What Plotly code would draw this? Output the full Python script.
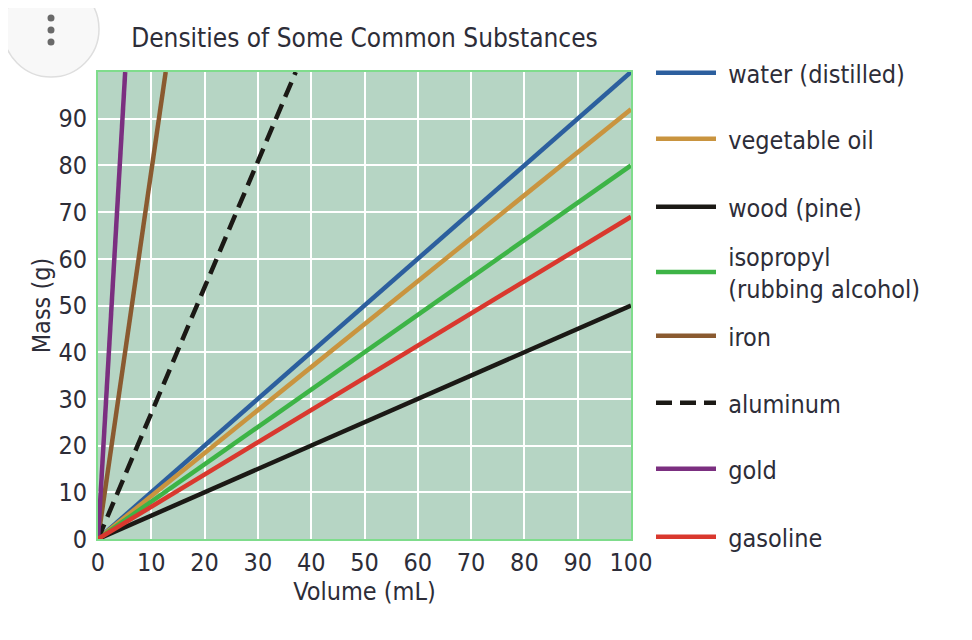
import plotly.graph_objects as go

# values
substances = ["water (distilled)", "vegetable oil", "wood (pine)",
              "isopropyl<br>(rubbing alcohol)", "iron", "aluminum", "gold", "gasoline"]
end_volume = [100, 100, 100, 100, 12.7, 37.1, 5.1, 100]   # mL where each line leaves the chart
end_mass = [100, 92, 50, 80, 100, 100, 100, 69]           # g at that volume
colors = ["#2c5f9e", "#c9943f", "#1b1915", "#3db446", "#8a5a30", "#1b1915", "#7b2f80", "#d9382e"]
dashes = ["solid", "solid", "solid", "solid", "solid", "16px,8px", "solid", "solid"]

x_ticks = list(range(0, 101, 10))
y_ticks = list(range(0, 91, 10))

FONT = "Liberation Sans Narrow, DejaVu Sans Condensed, Roboto Condensed, Arial Narrow, sans-serif"
TEXT = "#2d2d38"

# page has an 8px body margin, so work in screen pixels minus that offset
OFF = 7
W, H = 972, 640
L, R, T, B = 97 - OFF, 630 - OFF, 71 - OFF, 538 - OFF
legend_px = [72, 138, 206, 271, 335, 402, 468, 536]


def px_x(px):
    return (px - OFF - L) / (R - L)


def px_y(py):
    return (B - (py - OFF)) / (B - T)


fig = go.Figure()
for i, name in enumerate(substances):
    key = "legend" if i == 0 else "legend%d" % (i + 1)
    label = "\u00a0" + name.replace("<br>", "<br>\u00a0")
    fig.add_trace(go.Scatter(
        x=[0, end_volume[i]], y=[0, end_mass[i]], name=label, mode="lines",
        line=dict(color=colors[i], width=4.5, dash=dashes[i]),
        legend=key, hoverinfo="name"))

legends = {}
for i, py in enumerate(legend_px):
    key = "legend" if i == 0 else "legend%d" % (i + 1)
    legends[key] = dict(
        x=px_x(650), xanchor="left",
        y=px_y(py), yanchor="middle",
        font=dict(family=FONT, size=25, color=TEXT),
        bgcolor="rgba(0,0,0,0)", itemwidth=60, borderwidth=0)

fig.update_layout(
    width=W, height=H,
    margin=dict(l=L, r=W - R, t=T, b=H - B),
    paper_bgcolor="white",
    plot_bgcolor="#b6d5c4",
    title=dict(text="Densities of Some Common Substances", x=0.5, xref="paper",
               y=1 - (37 - OFF) / H, yanchor="middle",
               font=dict(family=FONT, size=26, color=TEXT)),
    font=dict(family=FONT, color=TEXT),
    xaxis=dict(range=[0, 100], tickvals=x_ticks, showgrid=True, gridcolor="white",
               gridwidth=2, zeroline=False, showline=True, mirror=True,
               linecolor="#7fdc8c", linewidth=2, ticks="",
               tickfont=dict(family=FONT, size=25, color=TEXT),
               title=dict(text="Volume (mL)", standoff=6,
                          font=dict(family=FONT, size=25, color=TEXT))),
    yaxis=dict(range=[0, 100], tickvals=y_ticks, showgrid=True, gridcolor="white",
               gridwidth=2, zeroline=False, showline=True, mirror=True,
               linecolor="#7fdc8c", linewidth=2, ticks="", ticklabelstandoff=4,
               tickfont=dict(family=FONT, size=25, color=TEXT),
               title=dict(text="Mass (g)", standoff=1,
                          font=dict(family=FONT, size=25, color=TEXT))),
    showlegend=True,
    **legends,
)

# menu button overlay in the top-left corner of the screenshot
fig.add_shape(type="circle", xref="paper", yref="paper",
              x0=px_x(2), x1=px_x(98), y0=px_y(76), y1=px_y(-20),
              fillcolor="#f8f8f8", line=dict(color="#dedede", width=1.5), layer="above")
for dot_y in [17, 29, 41]:
    fig.add_shape(type="circle", xref="paper", yref="paper",
                  x0=px_x(46.5), x1=px_x(53.5), y0=px_y(dot_y + 3.5), y1=px_y(dot_y - 3.5),
                  fillcolor="#6a6a6a", line=dict(width=0), layer="above")

fig.write_html("out.html")
